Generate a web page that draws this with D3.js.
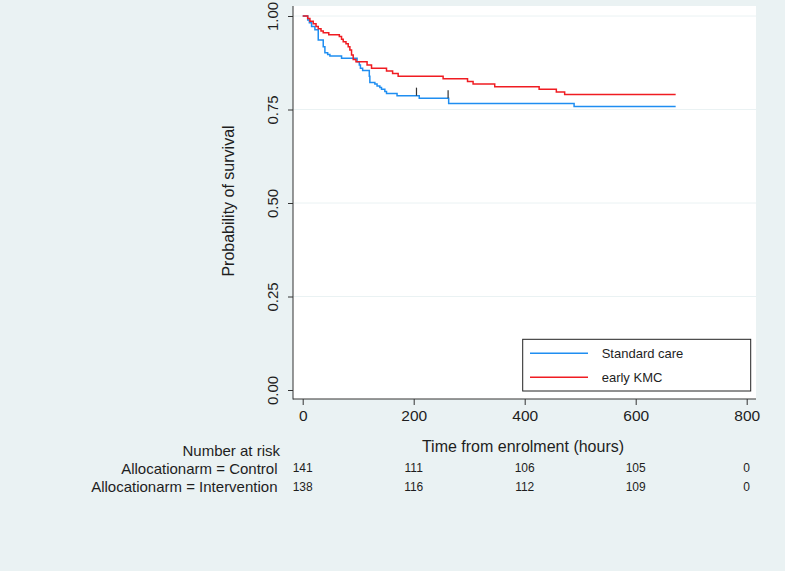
<!DOCTYPE html>
<html>
<head>
<meta charset="utf-8">
<script src="https://cdn.jsdelivr.net/npm/d3@7"></script>
<style>
  html, body { margin: 0; padding: 0; background: #eaf2f3; }
  svg { display: block; font-family: "Liberation Sans", Arial, Helvetica, sans-serif; }
</style>
</head>
<body>
<svg id="chart" width="785" height="571"></svg>
<script>
// ---- Data ----
const seriesNames = ["Standard care", "early KMC"];
const controlTimes = [0, 9, 12, 16, 22, 28, 37, 40, 45, 49, 70, 98, 102, 104, 108, 120, 121, 130, 134, 139, 142, 148, 151, 170, 210, 263, 489];
const controlSurv  = [1.0, 0.989, 0.982, 0.972, 0.963, 0.936, 0.918, 0.902, 0.897, 0.893, 0.887, 0.878, 0.869, 0.860, 0.854, 0.839, 0.822, 0.818, 0.813, 0.809, 0.804, 0.798, 0.793, 0.787, 0.780, 0.766, 0.758];
const controlCensorTimes = [205, 262];
const interventionTimes = [0, 9, 13, 19, 24, 28, 33, 37, 47, 66, 70, 73, 78, 82, 85, 88, 91, 96, 116, 124, 151, 162, 172, 253, 297, 307, 346, 426, 457, 472];
const interventionSurv  = [1.0, 0.993, 0.986, 0.979, 0.972, 0.966, 0.960, 0.955, 0.950, 0.945, 0.938, 0.931, 0.926, 0.918, 0.909, 0.896, 0.884, 0.878, 0.869, 0.860, 0.853, 0.846, 0.839, 0.832, 0.825, 0.818, 0.811, 0.804, 0.797, 0.790];
const interventionCensorTimes = [];
const followUpEnd = 672;

const xTicks = [0, 200, 400, 600, 800];
const yTicks = [0, 0.25, 0.5, 0.75, 1.0];
const riskHeader = "Number at risk";
const riskRowLabels = ["Allocationarm = Control", "Allocationarm = Intervention"];
const riskControl = [141, 111, 106, 105, 0];
const riskIntervention = [138, 116, 112, 109, 0];
const xTitle = "Time from enrolment (hours)";
const yTitle = "Probability of survival";

// ---- Layout ----
const svg = d3.select("#chart");
const W = 785, H = 571;
const plotL = 293, plotR = 756, plotT = 6, plotB = 399;
const x = d3.scaleLinear().domain([0, 800]).range([302.7, 746.7]);
const y = d3.scaleLinear().domain([0, 1]).range([390, 16]);
const colors = ["#1f8ef1", "#f01c22"];
const textColor = "#1e1e1e";

svg.append("rect").attr("width", W).attr("height", H).attr("fill", "#eaf2f3");
svg.append("rect").attr("x", plotL).attr("y", plotT)
  .attr("width", plotR - plotL).attr("height", plotB - plotT).attr("fill", "#ffffff");

// gridlines
svg.append("g").selectAll("line").data(yTicks.filter(d => d > 0)).join("line")
  .attr("x1", plotL).attr("x2", plotR)
  .attr("y1", d => y(d)).attr("y2", d => y(d))
  .attr("stroke", "#eaf2f3").attr("stroke-width", 1);

// curves
function buildSeries(times, surv) {
  const pts = times.map((t, i) => ({ t: t, s: surv[i] }));
  pts.push({ t: followUpEnd, s: surv[surv.length - 1] });
  return pts;
}
function survAt(times, surv, t) {
  let v = surv[0];
  for (let i = 0; i < times.length; i++) { if (times[i] <= t) v = surv[i]; }
  return v;
}
const line = d3.line().x(d => x(d.t)).y(d => y(d.s)).curve(d3.curveStepAfter);
const series = [
  { pts: buildSeries(controlTimes, controlSurv), times: controlTimes, surv: controlSurv, cens: controlCensorTimes },
  { pts: buildSeries(interventionTimes, interventionSurv), times: interventionTimes, surv: interventionSurv, cens: interventionCensorTimes }
];
series.forEach((s, i) => {
  svg.append("path").datum(s.pts).attr("d", line)
    .attr("fill", "none").attr("stroke", colors[i]).attr("stroke-width", 1.5)
    .attr("stroke-linejoin", "miter");
});
series.forEach((s) => {
  svg.append("g").selectAll("line").data(s.cens).join("line")
    .attr("x1", d => x(d)).attr("x2", d => x(d))
    .attr("y1", d => y(survAt(s.times, s.surv, d - 0.001)))
    .attr("y2", d => y(survAt(s.times, s.surv, d - 0.001)) - 8)
    .attr("stroke", "#333").attr("stroke-width", 1.2);
});

// axes
const yAxis = svg.append("g").attr("transform", `translate(${plotL},0)`)
  .call(d3.axisLeft(y).tickValues(yTicks).tickSize(5).tickFormat(d3.format(".2f")));
yAxis.select(".domain").remove();
yAxis.selectAll(".tick line").attr("stroke", "#333");
yAxis.selectAll(".tick text")
  .attr("transform", "rotate(-90)").attr("x", 0).attr("y", -15.5).attr("dy", 0)
  .attr("text-anchor", "middle").attr("font-size", 15).attr("fill", textColor)
  .attr("font-family", "Liberation Sans, Arial, sans-serif");

const xAxis = svg.append("g").attr("transform", `translate(0,${plotB})`)
  .call(d3.axisBottom(x).tickValues(xTicks).tickSize(6).tickFormat(d3.format("d")));
xAxis.select(".domain").remove();
xAxis.selectAll(".tick line").attr("stroke", "#333");
xAxis.selectAll(".tick text").attr("y", 21.5).attr("dy", 0)
  .attr("font-size", 15.5).attr("fill", textColor)
  .attr("font-family", "Liberation Sans, Arial, sans-serif");

svg.append("line").attr("x1", plotL).attr("x2", plotL).attr("y1", plotT).attr("y2", plotB + 0.5)
  .attr("stroke", "#333").attr("stroke-width", 1);
svg.append("line").attr("x1", plotL).attr("x2", plotR).attr("y1", plotB).attr("y2", plotB)
  .attr("stroke", "#333").attr("stroke-width", 1);

// axis titles
svg.append("text").attr("x", 523).attr("y", 452).attr("text-anchor", "middle")
  .attr("font-size", 16).attr("fill", textColor).text(xTitle);
svg.append("text").attr("transform", "translate(234,201) rotate(-90)")
  .attr("text-anchor", "middle").attr("font-size", 16).attr("fill", textColor).text(yTitle);

// legend
const lg = svg.append("g");
lg.append("rect").attr("x", 522.7).attr("y", 339.3).attr("width", 228).attr("height", 51.7)
  .attr("fill", "#fff").attr("stroke", "#222").attr("stroke-width", 1);
seriesNames.forEach((n, i) => {
  const yy = 353.3 + i * 24;
  lg.append("line").attr("x1", 530).attr("x2", 588).attr("y1", yy).attr("y2", yy)
    .attr("stroke", colors[i]).attr("stroke-width", 1.5);
  lg.append("text").attr("x", 601.7).attr("y", yy + 4.3).attr("font-size", 13)
    .attr("fill", textColor).text(n);
});

// risk table
svg.append("text").attr("x", 280).attr("y", 456).attr("text-anchor", "end")
  .attr("font-size", 15).attr("fill", textColor).text(riskHeader);
const riskRows = [riskControl, riskIntervention];
const rowLabelY = [474, 491.7];
const rowNumY = [472.3, 490.7];
riskRows.forEach((row, r) => {
  svg.append("text").attr("x", 277.5).attr("y", rowLabelY[r]).attr("text-anchor", "end")
    .attr("font-size", 15).attr("fill", textColor).text(riskRowLabels[r]);
  svg.append("g").selectAll("text").data(row).join("text")
    .attr("x", (d, i) => x(xTicks[i])).attr("y", rowNumY[r]).attr("text-anchor", "middle")
    .attr("font-size", 12).attr("fill", textColor).text(d => d);
});
</script>
</body>
</html>
